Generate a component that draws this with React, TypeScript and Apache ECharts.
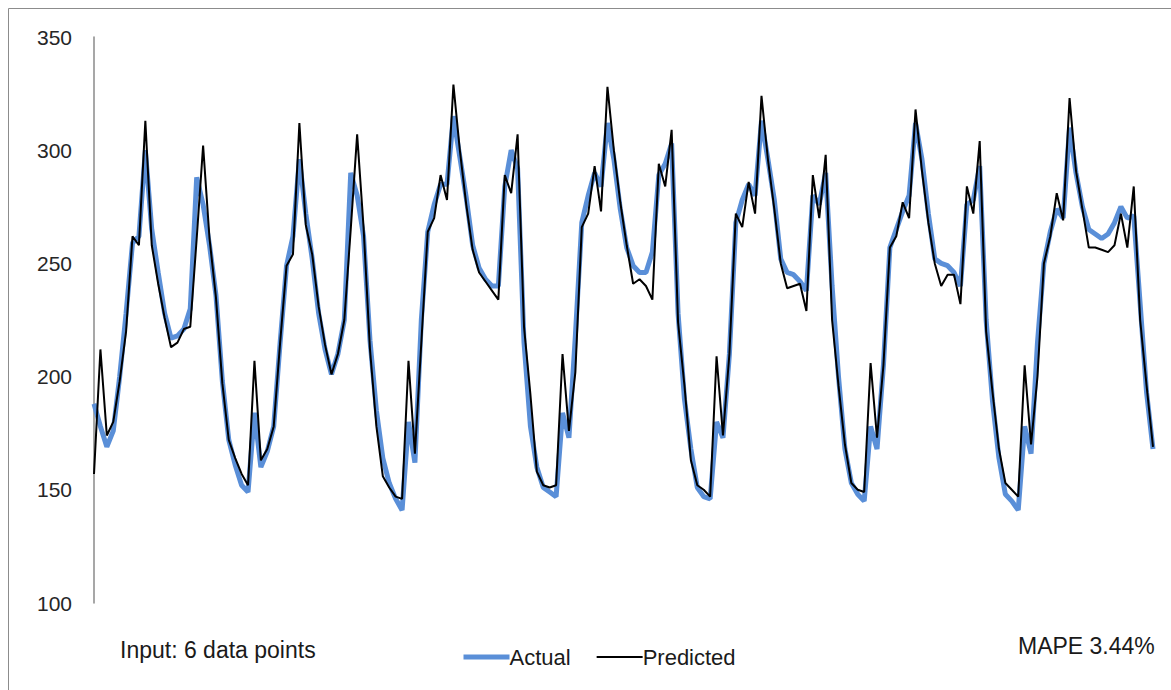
import React, { useEffect, useRef } from "react";
import * as echarts from "echarts";

const actual: number[] = [
  188, 178, 169, 176, 200, 228, 259, 262, 300, 265, 246, 228, 217, 218, 221, 230, 288, 276, 258, 236, 198, 172, 161, 152,
  149, 184, 160, 167, 178, 215, 249, 262, 296, 272, 252, 228, 212, 201, 210, 225, 290, 280, 262, 216, 185, 164, 153, 146,
  141, 180, 162, 225, 264, 276, 285, 285, 315, 297, 279, 258, 248, 243, 240, 240, 284, 300, 292, 215, 178, 160, 151, 149,
  147, 184, 173, 218, 268, 280, 290, 284, 312, 296, 274, 257, 249, 246, 246, 255, 289, 294, 303, 228, 190, 168, 151, 147,
  146, 180, 173, 210, 268, 278, 285, 280, 313, 296, 278, 252, 246, 245, 242, 238, 280, 276, 290, 240, 200, 168, 153, 148,
  145, 178, 168, 205, 257, 265, 273, 280, 312, 296, 272, 252, 250, 249, 246, 240, 276, 278, 293, 225, 189, 164, 148, 145,
  141, 178, 166, 215, 250, 264, 274, 270, 310, 290, 275, 265, 263, 261, 263, 268, 275, 270, 271, 232, 193, 168,
];

const predicted: number[] = [
  157, 212, 174, 180, 198, 220, 262, 258, 313, 258, 241, 226, 213, 215, 221, 222, 261, 302, 261, 235, 197, 172, 164, 157,
  152, 207, 163, 168, 178, 215, 249, 254, 312, 267, 254, 231, 214, 201, 210, 225, 265, 307, 266, 212, 178, 156, 151, 147,
  146, 207, 166, 215, 264, 270, 289, 278, 329, 300, 276, 256, 246, 242, 238, 234, 289, 281, 307, 222, 192, 158, 152, 151,
  152, 210, 176, 202, 266, 272, 293, 273, 328, 300, 277, 258, 241, 243, 240, 234, 294, 284, 309, 224, 196, 163, 152, 150,
  147, 209, 174, 210, 272, 266, 286, 272, 324, 296, 274, 250, 239, 240, 241, 229, 289, 270, 298, 225, 196, 170, 153, 150,
  149, 206, 173, 205, 257, 262, 277, 270, 318, 291, 268, 250, 240, 245, 245, 232, 284, 272, 304, 220, 193, 168, 153, 150,
  147, 205, 170, 200, 250, 262, 281, 269, 323, 291, 274, 257, 257, 256, 255, 258, 272, 257, 284, 225, 196, 169,
];

const hours: string[] = actual.map((_, i) => String(i + 1));

const seriesNames = ["Actual", "Predicted"];
const inputNote = "Input: 6 data points";
const mapeNote = "MAPE 3.44%";

export default function App() {
  const ref = useRef<HTMLDivElement>(null);

  useEffect(() => {
    if (!ref.current) return;
    const chart = echarts.init(ref.current, undefined, { renderer: "svg" });
    const font = "'Liberation Sans', Arial, sans-serif";
    const blue = "#5a8fd8";
    chart.setOption({
      animation: false,
      backgroundColor: "#ffffff",
      grid: { left: 94, right: 18, top: 37, bottom: 87, containLabel: false },
      xAxis: {
        type: "category",
        data: hours,
        boundaryGap: false,
        show: false,
      },
      yAxis: {
        type: "value",
        min: 100,
        max: 350,
        interval: 50,
        axisLine: { show: true, lineStyle: { color: "#8a8a8a", width: 1.5 } },
        axisTick: { show: false },
        splitLine: { show: false },
        axisLabel: { color: "#262626", fontSize: 21, fontFamily: font, margin: 22 },
      },
      legend: {
        left: 456,
        top: 641,
        itemWidth: 46,
        itemHeight: 14,
        itemGap: 25,
        textStyle: { color: "#1a1a1a", fontSize: 22, fontFamily: font, padding: [0, 0, 0, -5] },
        data: [
          { name: seriesNames[0], itemStyle: { opacity: 0 }, lineStyle: { width: 5, color: blue } },
          { name: seriesNames[1], itemStyle: { opacity: 0 }, lineStyle: { width: 2, color: "#000000" } },
        ],
      },
      series: [
        {
          name: seriesNames[0],
          type: "line",
          data: actual,
          symbol: "none",
          showSymbol: false,
          lineStyle: { color: blue, width: 5 },
          itemStyle: { color: blue },
          z: 2,
        },
        {
          name: seriesNames[1],
          type: "line",
          data: predicted,
          symbol: "none",
          showSymbol: false,
          lineStyle: { color: "#000000", width: 2 },
          itemStyle: { color: "#000000" },
          z: 3,
        },
      ],
      graphic: [
        {
          type: "rect",
          shape: { x: 8.5, y: 8.5, width: 1400, height: 900 },
          style: { fill: "none", stroke: "#8c8c8c", lineWidth: 1 },
          silent: true,
        },
        {
          type: "text",
          left: 120,
          top: 638,
          style: { text: inputNote, fill: "#1a1a1a", fontSize: 23, fontFamily: font },
        },
        {
          type: "text",
          left: 1018,
          top: 634,
          style: { text: mapeNote, fill: "#1a1a1a", fontSize: 23, fontFamily: font },
        },
      ],
    });
    return () => chart.dispose();
  }, []);

  return (
    <div
      ref={ref}
      style={{ position: "fixed", left: 0, top: 0, width: 1171, height: 690, background: "#fff" }}
    />
  );
}
